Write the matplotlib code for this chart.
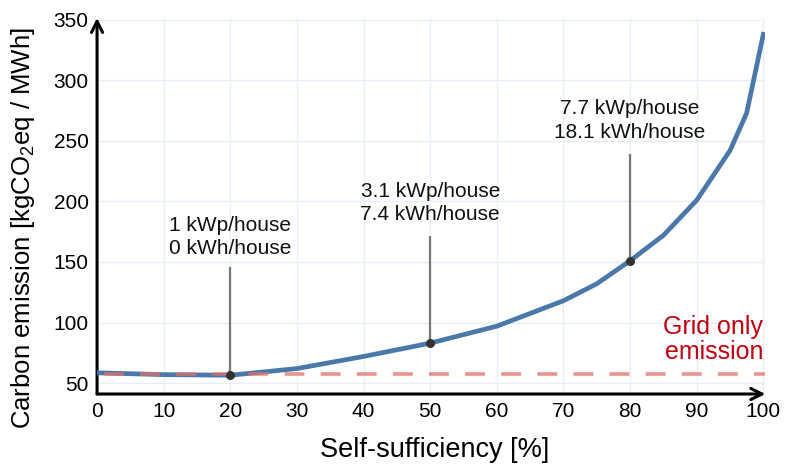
import numpy as np
import matplotlib
matplotlib.use('Agg')
import matplotlib.pyplot as plt

plt.rcParams['font.family'] = ['Liberation Sans', 'DejaVu Sans']
plt.rcParams['mathtext.default'] = 'regular'

# data
self_suff = [0, 10, 20, 30, 40, 50, 60, 70, 75, 80, 85, 90, 95, 97.5, 100]
emission = [58.5, 57, 56.5, 62, 72, 83, 97, 118, 132, 151, 172, 201, 242, 273, 338]
grid_only = 57.5

note_x = [20, 50, 80]
note_y = [56.5, 83, 151]
note_top = [145, 171, 238]
note_text = ['1 kWp/house\n0 kWh/house',
             '3.1 kWp/house\n7.4 kWh/house',
             '7.7 kWp/house\n18.1 kWh/house']
note_text_y = [170.5, 198.5, 267]

fig = plt.figure(figsize=(7.89, 4.66), dpi=100)
ax = fig.add_axes([0.123, 0.1545, 0.847, 0.807])

ax.set_xlim(0, 100.3)
ax.set_ylim(41, 351.5)
ax.set_xticks(np.arange(0, 101, 10))
ax.set_yticks(np.arange(50, 351, 50))
ax.grid(color='#e8eef7', lw=1)
ax.set_axisbelow(True)
ax.tick_params(length=0, labelsize=15, pad=6)
for s in ax.spines.values():
    s.set_visible(False)

ax.annotate('', xy=(1.0, 0), xytext=(0, 0), xycoords='axes fraction',
            arrowprops=dict(arrowstyle='->', lw=2.2, color='black',
                            shrinkA=0, shrinkB=0, mutation_scale=20))
ax.annotate('', xy=(0, 1.0), xytext=(0, 0), xycoords='axes fraction',
            arrowprops=dict(arrowstyle='->', lw=2.2, color='black',
                            shrinkA=0, shrinkB=0, mutation_scale=20))

ax.plot(self_suff, emission, color='#4a78a9', lw=3.4, zorder=3)
ax.axhline(grid_only, xmin=0.01, xmax=1.0, color='#e07070', lw=2.6,
           ls=(0, (5.5, 4.5)), alpha=0.75, zorder=4)

for x, y, top, txt, ty in zip(note_x, note_y, note_top, note_text, note_text_y):
    ax.plot([x, x], [y, top], color='#777777', lw=1.6, zorder=5)
    ax.plot(x, y, 'o', color='#333333', ms=5.5, zorder=6)
    ax.text(x, ty, txt, ha='center', va='center', fontsize=15,
            linespacing=1.3, color='#111111')

ax.text(100, 86, 'Grid only\nemission', ha='right', va='center',
        fontsize=18, color='#c00010', linespacing=1.1)

ax.set_xlabel('Self-sufficiency [%]', fontsize=19.5)
ax.set_ylabel('Carbon emission [kgCO$_2$eq / MWh]', fontsize=18.5)
ax.xaxis.set_label_coords(0.505, -0.115)
ax.yaxis.set_label_coords(-0.09, 0.44)

fig.savefig('out.png', dpi=100)
